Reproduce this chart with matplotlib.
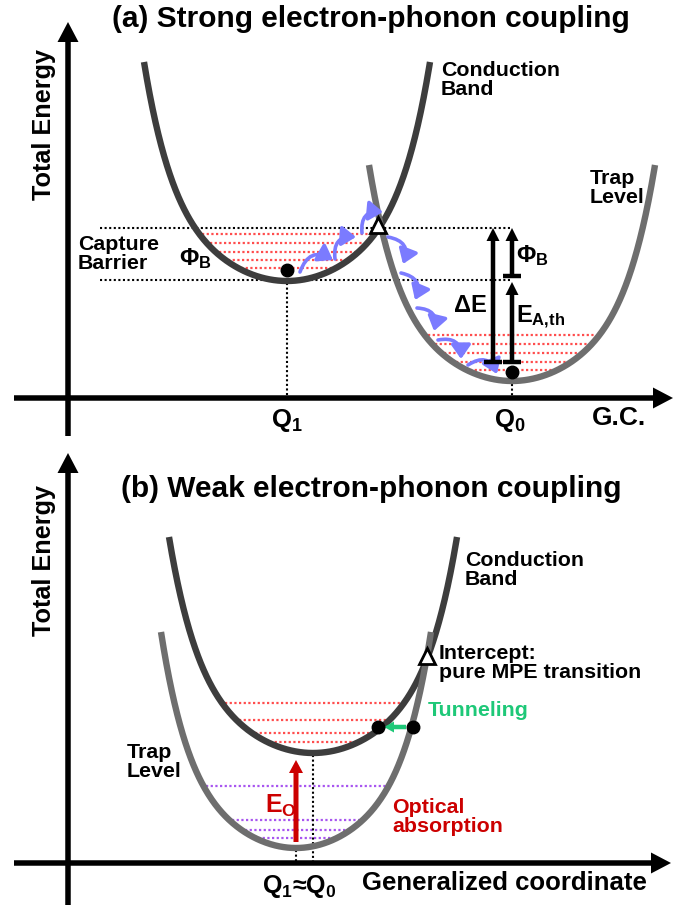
import numpy as np
import matplotlib.pyplot as plt
from matplotlib.patches import FancyArrow, FancyArrowPatch

plt.rcParams['font.family'] = ['Liberation Sans', 'DejaVu Sans']
plt.rcParams['font.weight'] = 'bold'
plt.rcParams['mathtext.fontset'] = 'custom'
plt.rcParams['mathtext.rm'] = 'Liberation Sans:bold'
plt.rcParams['mathtext.bf'] = 'Liberation Sans:bold'
plt.rcParams['mathtext.it'] = 'Liberation Sans:bold'

# potential wells (canvas px): a = strong coupling, b = weak coupling
well_vx = [287, 512, 313, 296]      # vertex position (generalized coordinate)
well_vy = [281, 381, 753, 848]      # vertex energy
well_hw = [143, 143, 144, 135]      # half width
well_h = [219, 216, 216, 216]       # height of the drawn branch
well_col = ['#3d3d3d', '#6e6e6e', '#3d3d3d', '#6e6e6e']

# vibrational levels, rise above the well bottom
levels_a_cb = [13, 21, 29, 38, 47]
levels_a_trap = [11, 19, 28, 37, 46]
levels_b_cb = [11, 20, 33, 50]
levels_b_trap = [10, 18, 28, 62]

# phonon emission / absorption steps in (a)
hop_start = [(300, 272), (335, 259), (362, 233), (388, 237), (401, 273), (417, 308), (438, 340), (468, 365)]
hop_end = [(333, 260), (356, 237), (383, 212), (403, 264), (415, 300), (434, 331), (461, 359), (497, 374)]

RED = '#ff4d4d'
VIOLET = '#a855f0'
HOP = '#7b7bff'


def shape(u):
    return 0.5 * u**2 + 0.5 * u**6


def well_curve(i):
    u = np.linspace(-1, 1, 400)
    return well_vx[i] + u * well_hw[i], well_vy[i] - well_h[i] * shape(u)


def level_span(i, rise):
    uu = np.linspace(0, 1, 600)
    u = np.interp(rise / well_h[i], shape(uu), uu)
    return well_vx[i] - u * well_hw[i], well_vx[i] + u * well_hw[i]


fig = plt.figure(figsize=(6.78, 9.08), dpi=100)
ax = fig.add_axes([0, 0, 1, 1])
ax.set_xlim(0, 678)
ax.set_ylim(908, 0)
ax.axis('off')

# axes arrows
for (x0, y0, x1, y1) in [(68, 436, 68, 22), (14, 398, 673, 398), (68, 905, 68, 453), (14, 863, 671, 863)]:
    ax.add_patch(FancyArrow(x0, y0, x1 - x0, y1 - y0, width=5.5, head_width=21, head_length=20,
                            length_includes_head=True, color='k', lw=0))

# vibrational levels
for i, levels, col in [(0, levels_a_cb, RED), (1, levels_a_trap, RED), (2, levels_b_cb, RED), (3, levels_b_trap, VIOLET)]:
    for r in levels:
        xl, xr = level_span(i, r)
        ax.plot([xl + 3, xr - 3], [well_vy[i] - r] * 2, color=col, lw=1.6, ls=(0, (1, 1.1)), zorder=1)

# black reference lines
dot = dict(color='k', lw=1.5, ls=(0, (1, 1.2)), zorder=1)
ax.plot([100, 512], [228, 228], **dot)
ax.plot([100, 512], [280, 280], **dot)
ax.plot([287, 287], [283, 396], **dot)
ax.plot([512, 512], [384, 396], **dot)
ax.plot([296, 296], [850, 861], **dot)
ax.plot([313, 313], [755, 861], **dot)

# wells
for i in range(4):
    x, y = well_curve(i)
    ax.plot(x, y, color=well_col[i], lw=4.6, solid_capstyle='butt', zorder=3)

# hops
for s, e in zip(hop_start, hop_end):
    ax.add_patch(FancyArrowPatch(s, e, connectionstyle='arc3,rad=-0.6',
                                 arrowstyle='-|>,head_length=0.6,head_width=0.42', mutation_scale=14,
                                 color=HOP, lw=2.6, shrinkA=0, shrinkB=0, zorder=4))

# energy arrows (a)
ax.add_patch(FancyArrow(493, 362, 0, -134, width=4.5, head_width=13, head_length=13,
                        length_includes_head=True, color='k', lw=0, zorder=5))
ax.add_patch(FancyArrow(512, 276, 0, -48, width=4.5, head_width=13, head_length=13,
                        length_includes_head=True, color='k', lw=0, zorder=5))
ax.add_patch(FancyArrow(512, 362, 0, -80, width=4.5, head_width=13, head_length=13,
                        length_includes_head=True, color='k', lw=0, zorder=5))
ax.plot([484, 502], [362, 362], color='k', lw=3.2, solid_capstyle='butt', zorder=5)
ax.plot([503, 521], [362, 362], color='k', lw=3.2, solid_capstyle='butt', zorder=5)
ax.plot([503, 521], [276, 276], color='k', lw=3.2, solid_capstyle='butt', zorder=5)

# markers
ax.plot([287, 512], [270, 372], 'o', color='k', ms=9, zorder=6)
ax.plot([378], [225], '^', mfc='white', mec='k', mew=2, ms=12, zorder=6)
ax.plot([427], [656], '^', mfc='white', mec='k', mew=2, ms=12, zorder=6)
ax.plot([378, 413], [727, 727], 'o', color='k', ms=9, zorder=6)

# tunneling and optical arrows (b)
ax.add_patch(FancyArrow(406, 727, -22, 0, width=4.5, head_width=11, head_length=10,
                        length_includes_head=True, color='#1ec878', lw=0, zorder=5))
ax.add_patch(FancyArrow(296, 842, 0, -82, width=5, head_width=14, head_length=13,
                        length_includes_head=True, color='#cc0000', lw=0, zorder=5))

# texts
ax.text(371, 19, '(a) Strong electron-phonon coupling', fontsize=21.5, ha='center', va='center')
ax.text(371, 489, '(b) Weak electron-phonon coupling', fontsize=21.5, ha='center', va='center')
for yc in [125, 561]:
    ax.text(44, yc, 'Total Energy', fontsize=18.2, rotation=90, ha='center', va='center')

fs = 15.4
ax.text(441, 80, 'Conduction\nBand', fontsize=fs, ha='left', va='center', linespacing=1.0)
ax.text(590, 188, 'Trap\nLevel', fontsize=fs, ha='left', va='center', linespacing=1.0)
ax.text(78, 254, 'Capture\nBarrier', fontsize=fs, ha='left', va='center', linespacing=1.0)
ax.text(179, 259, r'$\mathbf{Φ_B}$', fontsize=17, ha='left', va='center')
ax.text(516, 256, r'$\mathbf{Φ_B}$', fontsize=17, ha='left', va='center')
ax.text(470, 305, 'ΔE', fontsize=17, ha='center', va='center')
ax.text(516, 317, r'$\mathbf{E_{A{,}th}}$', fontsize=17, ha='left', va='center')
ax.text(287, 421, r'$\mathbf{Q_1}$', fontsize=18.5, ha='center', va='center')
ax.text(510, 421, r'$\mathbf{Q_0}$', fontsize=18.5, ha='center', va='center')
ax.text(619, 418, 'G.C.', fontsize=19, ha='center', va='center')

ax.text(465, 570, 'Conduction\nBand', fontsize=fs, ha='left', va='center', linespacing=1.0)
ax.text(439, 663, 'Intercept:\npure MPE transition', fontsize=fs, ha='left', va='center', linespacing=1.0)
ax.text(428, 711, 'Tunneling', fontsize=fs, ha='left', va='center', color='#1ec878')
ax.text(127, 762, 'Trap\nLevel', fontsize=fs, ha='left', va='center', linespacing=1.0)
ax.text(392, 817, 'Optical\nabsorption', fontsize=fs, ha='left', va='center', linespacing=1.0, color='#cc0000')
ax.text(265, 806, r'$\mathbf{E_O}$', fontsize=18, ha='left', va='center', color='#cc0000')
ax.text(299, 886, r'$\mathbf{Q_1}$≈$\mathbf{Q_0}$', fontsize=18, ha='center', va='center')
ax.text(504, 883, 'Generalized coordinate', fontsize=18.5, ha='center', va='center')

fig.savefig('out.png', dpi=100)
